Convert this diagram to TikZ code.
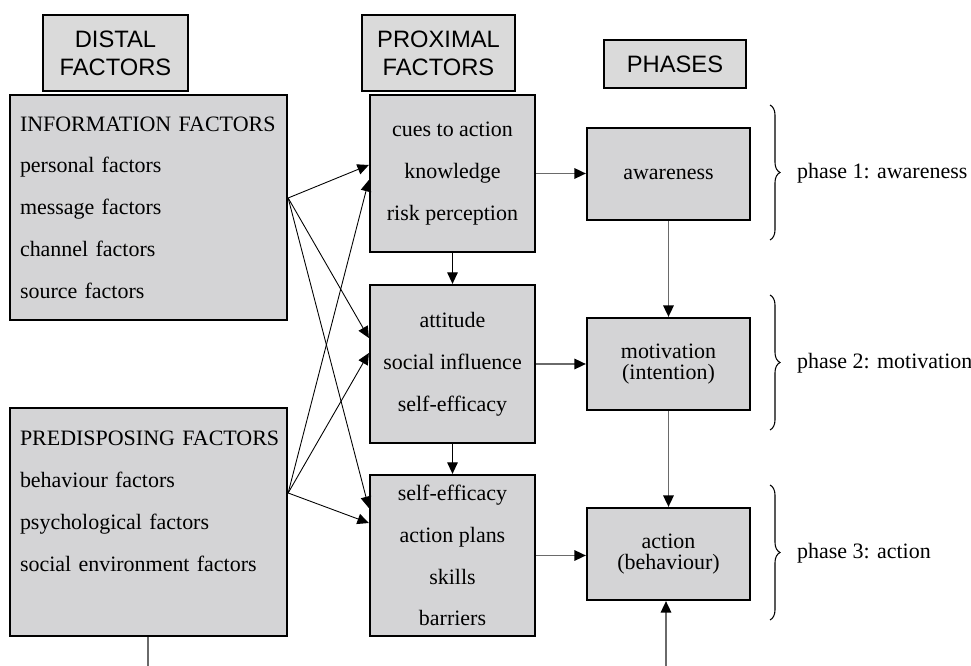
\documentclass[tikz,border=0pt]{standalone}
\usepackage{fontspec}
\setmainfont{Liberation Serif}
\newfontfamily\headfont{Liberation Sans}
\usetikzlibrary{arrows.meta, decorations.pathreplacing}
\definecolor{boxgray}{HTML}{D4D4D6}
\definecolor{headgray}{HTML}{DADADA}
\definecolor{linegray}{HTML}{6A6A6A}

\begin{document}
\begin{tikzpicture}[
  head/.style={rectangle, draw=black, line width=0.6pt, fill=headgray, align=center,
               font=\headfont\fontsize{13.5}{15.9}\selectfont},
  factorbox/.style={rectangle, draw=black, line width=1.3pt, fill=boxgray,
               minimum width=5.54cm, text width=5.14cm, inner xsep=0.2cm, align=left,
               font=\fontsize{12.5}{23.8}\selectfont},
  proxbox/.style={rectangle, draw=black, line width=1.3pt, fill=boxgray,
               minimum width=3.3cm, align=center, font=\fontsize{12.5}{23.8}\selectfont},
  phasebox/.style={rectangle, draw=black, line width=1.3pt, fill=boxgray,
               minimum width=3.26cm, minimum height=1.84cm, align=center,
               font=\fontsize{12.5}{11.5}\selectfont},
  arrow/.style={-{Triangle[length=6.5pt, width=6pt]}, line width=0.5pt, black},
  grayarrow/.style={-{Triangle[length=6.5pt, width=6pt, color=black]}, line width=0.8pt, linegray},
  grayline/.style={line width=0.8pt, linegray},
  curly/.style={decorate, decoration={brace, amplitude=0.2cm}, line width=0.6pt},
  phase/.style={anchor=west, font=\fontsize{12.5}{15}\selectfont}
]
  \useasboundingbox (0,0) rectangle (19.42,-13.32);

  % headers
  \node[head, minimum width=2.9cm, minimum height=1.52cm] (distal) at (2.31,-1.06) {DISTAL\\FACTORS};
  \node[head, minimum width=3.06cm, minimum height=1.52cm] (proximal) at (8.77,-1.06) {PROXIMAL\\FACTORS};
  \node[head, minimum width=2.84cm, minimum height=0.96cm] (phases) at (13.5,-1.28) {PHASES};

  % distal factors
  \node[factorbox, minimum height=4.5cm] (info) at (2.97,-4.15)
    {\mbox{INFORMATION FACTORS}\\personal factors\\message factors\\channel factors\\source factors};
  \node[factorbox, minimum height=4.56cm] (pred) at (2.97,-10.44)
    {\mbox{PREDISPOSING FACTORS}\\behaviour factors\\psychological factors\\social environment factors\\\mbox{}};

  % proximal factors
  \node[proxbox, minimum height=3.14cm] (prox1) at (9.05,-3.47) {cues to action\\knowledge\\risk perception};
  \node[proxbox, minimum height=3.16cm] (prox2) at (9.05,-7.28) {attitude\\social influence\\self-efficacy};
  \node[proxbox, minimum height=3.22cm] (prox3) at (9.05,-11.11) {self-efficacy\\action plans\\skills\\barriers};

  % phases
  \node[phasebox] (aware) at (13.37,-3.48) {awareness};
  \node[phasebox] (motiv) at (13.37,-7.28) {motivation\\(intention)};
  \node[phasebox] (act) at (13.37,-11.08) {action\\(behaviour)};

  % braces and phase labels
  \coordinate (b1top) at (15.4,-2.1);  \coordinate (b1bot) at (15.4,-4.8);
  \coordinate (b2top) at (15.4,-5.9);  \coordinate (b2bot) at (15.4,-8.6);
  \coordinate (b3top) at (15.4,-9.7);  \coordinate (b3bot) at (15.4,-12.4);
  \draw[curly] (b1top) -- (b1bot);
  \draw[curly] (b2top) -- (b2bot);
  \draw[curly] (b3top) -- (b3bot);
  \node[phase] (ph1) at (15.82,-3.46) {phase 1: awareness};
  \node[phase] (ph2) at (15.82,-7.26) {phase 2: motivation};
  \node[phase] (ph3) at (15.82,-11.06) {phase 3: action};

  % distal -> proximal
  \draw[arrow] ([yshift=0.19cm]info.east) -- ([yshift=0.17cm]prox1.west);
  \draw[arrow] ([yshift=0.19cm]info.east) -- ([yshift=0.52cm]prox2.west);
  \draw[arrow] ([yshift=0.19cm]info.east) -- ([yshift=0.95cm]prox3.west);
  \draw[arrow] ([yshift=0.58cm]pred.east) -- ([yshift=-0.13cm]prox1.west);
  \draw[arrow] ([yshift=0.58cm]pred.east) -- ([yshift=0.22cm]prox2.west);
  \draw[arrow] ([yshift=0.58cm]pred.east) -- ([yshift=0.65cm]prox3.west);

  % proximal chain
  \draw[arrow] (prox1) -- (prox2);
  \draw[arrow] (prox2) -- (prox3);

  % proximal -> phases
  \draw[grayarrow] (prox1.east) -- (prox1.east -| aware.west);
  \draw[grayarrow] (prox2.east) -- (prox2.east -| motiv.west);
  \draw[grayarrow] (prox3.east) -- (prox3.east -| act.west);
  \draw[grayarrow] (aware) -- (motiv);
  \draw[grayarrow] (motiv) -- (act);

  % lines leaving the page
  \coordinate (predend) at (2.96,-13.32);
  \coordinate (actin) at (13.32,-13.32);
  \draw[grayline] (pred.south -| predend) -- (predend);
  \draw[grayarrow] (actin) -- (actin |- act.south);
\end{tikzpicture}
\end{document}
